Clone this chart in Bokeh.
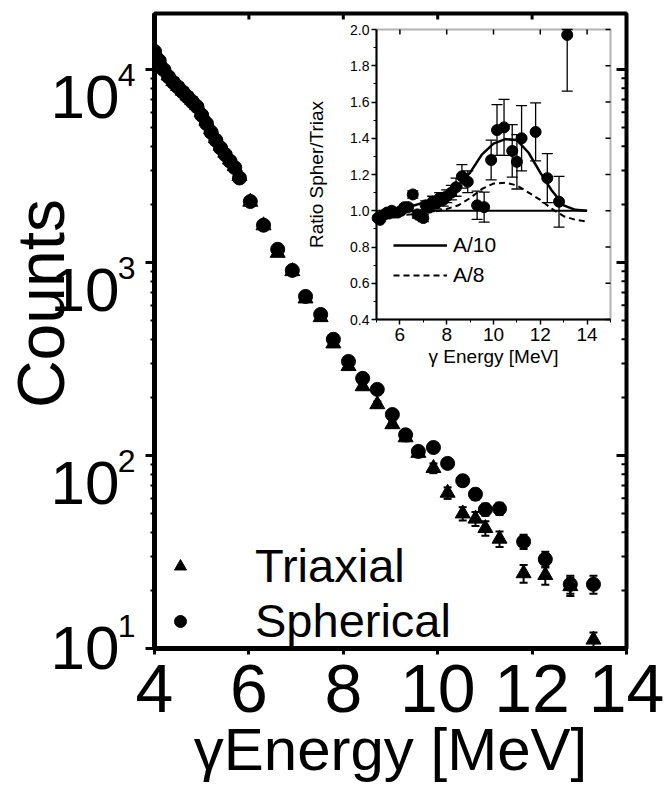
import math
from bokeh.plotting import figure
from bokeh.models import (ColumnDataSource, Whisker, TeeHead, Legend, LegendItem,
                          LinearAxis, LogAxis, FixedTicker, PrintfTickFormatter, Range1d,
                          BoxAnnotation, LinearScale)
from bokeh.embed import file_html
from bokeh.resources import INLINE

FONT = "Liberation Sans"

# ---------------- main spectrum data ----------------
tri_energy = [4.0, 4.1, 4.2, 4.3, 4.4, 4.5, 4.6, 4.7, 4.8, 4.9, 5.0, 5.1, 5.2, 5.3, 5.4,
              5.5, 5.6, 5.7, 5.8, 6.03, 6.31, 6.61, 6.92, 7.20, 7.52, 7.79, 8.11, 8.41,
              8.72, 9.04, 9.32, 9.59, 9.91, 10.21, 10.53, 10.80, 11.01, 11.31, 11.82,
              12.28, 12.81, 13.30]
tri_counts = [12700, 11300, 10100, 9300, 8700, 8200, 7750, 7320, 6920, 6540, 5990, 5420,
              4890, 4400, 4020, 3700, 3410, 3150, 2800, 2060, 1555, 1120, 900, 650, 520,
              380, 290, 228, 184, 145, 124, 103, 86, 64, 50, 47, 42, 37, 24.5, 24, 21, 11.1]
tri_err = [60, 55, 50, 48, 45, 43, 42, 40, 39, 37, 35, 33, 32, 30, 29, 28, 27, 26, 25, 22,
           19, 16, 14, 12, 11, 9, 8, 7, 6.5, 6, 5.5, 5, 5, 4.4, 4.0, 3.9, 3.6, 3.4, 2.6,
           2.6, 2.3, 1.0]

sph_energy = [4.0, 4.1, 4.2, 4.3, 4.4, 4.5, 4.6, 4.7, 4.8, 4.9, 5.0, 5.1, 5.2, 5.3, 5.4,
              5.5, 5.6, 5.7, 5.8, 6.03, 6.31, 6.61, 6.92, 7.20, 7.52, 7.79, 8.11, 8.41,
              8.72, 9.04, 9.32, 9.59, 9.91, 10.21, 10.53, 10.80, 11.01, 11.31, 11.82,
              12.28, 12.81, 13.30]
sph_counts = [12400, 11100, 9950, 9150, 8560, 8100, 7640, 7200, 6800, 6420, 5800, 5250,
              4730, 4300, 3920, 3620, 3350, 3100, 2740, 2070, 1560, 1170, 910, 667, 538,
              400, 307, 251, 220, 163, 128, 105, 110, 91, 74, 63, 52.5, 53, 35.8, 29,
              21.5, 21.5]
sph_err = [60, 55, 50, 48, 45, 43, 42, 40, 39, 37, 35, 33, 32, 30, 29, 28, 27, 26, 25, 25,
           20, 17, 15, 12, 11, 9, 8, 7, 7, 6, 5.5, 5, 5.5, 5, 4.5, 4.2, 3.8, 3.9, 3.0,
           2.7, 2.3, 2.3]

x_ticks = [4, 6, 8, 10, 12, 14]
y_decades = [10, 100, 1000, 10000]
y_exponents = ["1", "2", "3", "4"]
y_minor = [20, 30, 40, 50, 60, 70, 80, 90, 200, 300, 400, 500, 600, 700, 800, 900,
           2000, 3000, 4000, 5000, 6000, 7000, 8000, 9000]

# ---------------- inset (ratio) data ----------------
ratio_energy = [5.05, 5.15, 5.25, 5.35, 5.45, 5.55, 5.65, 5.75, 5.9, 6.05, 6.2, 6.35,
                6.55, 6.75, 6.9, 7.0, 7.1, 7.25, 7.4, 7.55, 7.7, 7.85, 8.0, 8.2, 8.4,
                8.65, 8.9, 9.3, 9.6, 9.9, 10.15, 10.45, 10.8, 11.0, 11.2, 11.8, 12.3,
                12.8, 13.15]
ratio_value = [0.96, 0.95, 0.97, 0.98, 0.99, 0.985, 1.0, 0.99, 0.99, 1.0, 1.02, 1.02,
               1.09, 0.98, 0.97, 0.96, 1.03, 1.02, 1.05, 1.04, 1.07, 1.06, 1.08, 1.10,
               1.13, 1.19, 1.16, 1.03, 1.02, 1.28, 1.445, 1.46, 1.33, 1.27, 1.40, 1.435,
               1.18, 1.05, 1.97]
ratio_err_low = [0.01, 0.01, 0.01, 0.01, 0.01, 0.01, 0.01, 0.01, 0.012, 0.012, 0.015,
                 0.015, 0.02, 0.02, 0.02, 0.02, 0.025, 0.025, 0.03, 0.03, 0.03, 0.035,
                 0.035, 0.04, 0.05, 0.065, 0.06, 0.078, 0.083, 0.11, 0.14, 0.155, 0.145,
                 0.15, 0.18, 0.16, 0.135, 0.14, 0.31]
ratio_err_high = [0.01, 0.01, 0.01, 0.01, 0.01, 0.01, 0.01, 0.01, 0.012, 0.012, 0.015,
                  0.015, 0.02, 0.02, 0.02, 0.02, 0.025, 0.025, 0.03, 0.03, 0.03, 0.035,
                  0.035, 0.04, 0.05, 0.065, 0.06, 0.078, 0.083, 0.11, 0.14, 0.155, 0.145,
                  0.15, 0.18, 0.16, 0.135, 0.14, 0.03]

curve_energy = [5.0, 5.5, 6.0, 6.5, 7.0, 7.5, 8.0, 8.5, 9.0, 9.5, 10.0, 10.5, 11.0, 11.5,
                12.0, 12.5, 13.0, 13.5, 14.0]
curve_a10 = [0.965, 0.98, 1.0, 1.025, 1.045, 1.065, 1.09, 1.14, 1.21, 1.31, 1.37, 1.395,
             1.39, 1.32, 1.21, 1.11, 1.03, 1.005, 1.0]
curve_a8 = [0.965, 0.97, 0.975, 0.98, 0.985, 0.995, 1.01, 1.03, 1.07, 1.12, 1.15, 1.155,
            1.14, 1.10, 1.06, 1.01, 0.97, 0.95, 0.94]
unity_energy = [5.0, 14.0]
unity_value = [1.0, 1.0]

inset_x_ticks = [6, 8, 10, 12, 14]
inset_x_minor = [5, 7, 9, 11, 13, 15]
inset_y_ticks = [0.4, 0.6, 0.8, 1.0, 1.2, 1.4, 1.6, 1.8, 2.0]
inset_y_minor = [0.5, 0.7, 0.9, 1.1, 1.3, 1.5, 1.7, 1.9]

# ---------------- layout constants (pixels) ----------------
W, H = 666, 789
BL, BR, BT, BB = 154, 40, 13, 141
FW, FH = W - BL - BR, H - BT - BB          # main frame size
X0, X1 = 4, 14
Y0, Y1 = 10, 19500
PX_DECADE = FH / math.log10(Y1 / Y0)
# inset frame, in main-frame pixels (from frame left / frame top)
IL, IR, IT, IB = 222, 456, 16, 306
IX0, IX1, IY0, IY1 = 5, 15, 0.4, 2.0
ipx = (IR - IL) / (IX1 - IX0)
ipy = (IB - IT) / (IY1 - IY0)

p = figure(width=W, height=H, x_range=(X0, X1), y_range=(Y0, Y1),
           y_axis_type="log", output_backend="svg", toolbar_location=None,
           min_border_left=BL, min_border_right=BR, min_border_top=BT,
           min_border_bottom=BB)
p.xgrid.visible = False
p.ygrid.visible = False
p.outline_line_color = "black"
p.outline_line_width = 4

p.extra_x_ranges = {"ix": Range1d(IX0 - IL / ipx, IX1 + (FW - IR) / ipx),
                    "fx": Range1d(0, FW)}
p.extra_x_scales = {"ix": LinearScale(), "fx": LinearScale()}
p.extra_y_ranges = {"iy": Range1d(IY0 - (FH - IB) / ipy, IY1 + IT / ipy),
                    "fy": Range1d(0, FH)}
p.extra_y_scales = {"iy": LinearScale(), "fy": LinearScale()}

# ---- main data ----
tri_src = ColumnDataSource(dict(x=tri_energy, y=tri_counts,
                                lo=[c - e for c, e in zip(tri_counts, tri_err)],
                                hi=[c + e for c, e in zip(tri_counts, tri_err)]))
sph_src = ColumnDataSource(dict(x=sph_energy, y=sph_counts,
                                lo=[c - e for c, e in zip(sph_counts, sph_err)],
                                hi=[c + e for c, e in zip(sph_counts, sph_err)]))
for src in (tri_src, sph_src):
    p.add_layout(Whisker(source=src, base="x", lower="lo", upper="hi",
                         line_color="black", line_width=2,
                         upper_head=TeeHead(size=8, line_width=2, line_color="black"),
                         lower_head=TeeHead(size=8, line_width=2, line_color="black")))
sph_r = p.scatter("x", "y", source=sph_src, marker="circle", size=14,
                  fill_color="black", line_color="black")
tri_r = p.scatter("x", "y", source=tri_src, marker="triangle", size=15,
                  fill_color="black", line_color="black")

# ---- main axes ----
xa = p.xaxis[0]
xa.ticker = FixedTicker(ticks=x_ticks, minor_ticks=[])
xa.axis_line_width = 5
xa.major_tick_line_width = 3
xa.major_tick_out = 6
xa.major_tick_in = 0
xa.major_label_standoff = 10
xa.major_label_text_font = FONT
xa.major_label_text_font_size = "68px"
xa.major_label_text_color = "black"
xa.axis_label = "γEnergy [MeV]"
xa.axis_label_text_font = FONT
xa.axis_label_text_font_size = "60px"
xa.axis_label_text_font_style = "normal"
xa.axis_label_text_color = "black"
xa.axis_label_standoff = 1

ya = p.yaxis[0]
ya.axis_line_width = 5
ya.major_tick_out = 9
ya.major_tick_in = 0
ya.minor_tick_out = 4
ya.minor_tick_in = 0
ya.major_tick_line_width = 3
ya.minor_tick_line_width = 2
ya.major_label_overrides = {d: "" for d in y_decades}
ya.major_label_standoff = 0

# y tick labels 10^k: "10" sits ~28 px below its decade, the exponent ~22 px above the "10"
def _px_above_bottom(v):
    return math.log10(v / Y0) * PX_DECADE

ten_pos = [d * 10 ** (-(min(28, _px_above_bottom(d) - 1)) / PX_DECADE) for d in y_decades]
exp_pos = [t * 10 ** (22 / PX_DECADE) for t in ten_pos]
exp_axis = LogAxis(ticker=FixedTicker(ticks=exp_pos, minor_ticks=[]),
                   major_label_overrides={t: e for t, e in zip(exp_pos, y_exponents)},
                   axis_line_color=None, major_tick_out=0, major_tick_in=0,
                   minor_tick_out=0, minor_tick_in=0, major_label_standoff=10,
                   major_label_text_font=FONT, major_label_text_font_size="32px",
                   major_label_text_color="black")
p.add_layout(exp_axis, "left")
ten_axis = LogAxis(ticker=FixedTicker(ticks=ten_pos, minor_ticks=[]),
                   major_label_overrides={t: "10" for t in ten_pos},
                   axis_line_color=None, major_tick_out=0, major_tick_in=0,
                   minor_tick_out=0, minor_tick_in=0, major_label_standoff=-5,
                   major_label_text_font=FONT, major_label_text_font_size="62px",
                   major_label_text_color="black")
p.add_layout(ten_axis, "left")
# "Counts" sits a little above the frame centre: pad its start with no-break spaces
counts_axis = LogAxis(ticker=FixedTicker(ticks=[]),
                      axis_line_color=None, major_tick_out=0, major_tick_in=0,
                      minor_tick_out=0, minor_tick_in=0, major_label_standoff=0,
                      axis_label="\u00a0\u00a0\u00a0Counts", axis_label_text_font=FONT,
                      axis_label_text_font_size="66px",
                      axis_label_text_font_style="normal",
                      axis_label_text_color="black", axis_label_standoff=-30)
p.add_layout(counts_axis, "left")

# inward ticks on the top and right edges
p.segment(x0=[FW - 10] * 3, x1=[FW] * 3, y0=y_decades[1:], y1=y_decades[1:],
          x_range_name="fx", line_color="black", line_width=3)
p.segment(x0=[FW - 5] * len(y_minor), x1=[FW] * len(y_minor), y0=y_minor, y1=y_minor,
          x_range_name="fx", line_color="black", line_width=2)
p.segment(x0=x_ticks[1:-1], x1=x_ticks[1:-1], y0=[FH - 6] * 4, y1=[FH] * 4,
          y_range_name="fy", line_color="black", line_width=3)

leg = Legend(items=[LegendItem(label="Triaxial", renderers=[tri_r]),
                    LegendItem(label="Spherical", renderers=[sph_r])],
             location=(11, 0), glyph_width=30, glyph_height=30, label_standoff=60,
             spacing=0, padding=0, margin=0, border_line_color=None,
             background_fill_alpha=0, label_text_font=FONT,
             label_text_font_size="47px", label_text_color="black")
p.add_layout(leg)

# ================= inset (drawn on its own ranges) =================
p.add_layout(BoxAnnotation(left=IX0, right=IX1, bottom=IY0, top=IY1,
                           x_range_name="ix", y_range_name="iy",
                           fill_alpha=0, line_color="black", line_width=2))
p.line(unity_energy, unity_value, x_range_name="ix", y_range_name="iy",
       line_color="black", line_width=2)
a10_r = p.line(curve_energy, curve_a10, x_range_name="ix", y_range_name="iy",
               line_color="black", line_width=2.5)
a8_r = p.line(curve_energy, curve_a8, x_range_name="ix", y_range_name="iy",
              line_color="black", line_width=2, line_dash="6 4")

r_src = ColumnDataSource(dict(x=ratio_energy, y=ratio_value,
                              lo=[v - e for v, e in zip(ratio_value, ratio_err_low)],
                              hi=[v + e for v, e in zip(ratio_value, ratio_err_high)]))
p.add_layout(Whisker(source=r_src, base="x", lower="lo", upper="hi",
                     x_range_name="ix", y_range_name="iy",
                     line_color="black", line_width=1.3,
                     upper_head=TeeHead(size=11, line_width=1.3, line_color="black"),
                     lower_head=TeeHead(size=11, line_width=1.3, line_color="black")))
p.scatter("x", "y", source=r_src, marker="circle", size=11, x_range_name="ix",
          y_range_name="iy", fill_color="black", line_color="black")

# inset ticks on top / right edges (inward)
p.segment(x0=inset_x_ticks, x1=inset_x_ticks, y0=[IY1 - 5 / ipy] * 5, y1=[IY1] * 5,
          x_range_name="ix", y_range_name="iy", line_color="black", line_width=1.5)
p.segment(x0=[IX1 - 5 / ipx] * 9, x1=[IX1] * 9, y0=inset_y_ticks, y1=inset_y_ticks,
          x_range_name="ix", y_range_name="iy", line_color="black", line_width=1.5)

ixa = LinearAxis(x_range_name="ix", y_range_name="iy", fixed_location=IY0,
                 bounds=(IX0, IX1),
                 ticker=FixedTicker(ticks=inset_x_ticks, minor_ticks=inset_x_minor),
                 axis_line_width=2, major_tick_out=5, major_tick_in=0,
                 minor_tick_out=3, minor_tick_in=0, major_tick_line_width=1.5,
                 major_label_standoff=3, major_label_text_font=FONT,
                 major_label_text_font_size="19px", major_label_text_color="black",
                 axis_label="γ Energy [MeV]", axis_label_text_font=FONT,
                 axis_label_text_font_size="19px", axis_label_text_font_style="normal",
                 axis_label_text_color="black", axis_label_standoff=2)
p.add_layout(ixa, "below")
iya = LinearAxis(x_range_name="ix", y_range_name="iy", fixed_location=IX0,
                 bounds=(IY0, IY1),
                 ticker=FixedTicker(ticks=inset_y_ticks, minor_ticks=inset_y_minor),
                 formatter=PrintfTickFormatter(format="%.1f"),
                 axis_line_width=2, major_tick_out=5, major_tick_in=0,
                 minor_tick_out=3, minor_tick_in=0, major_tick_line_width=1.5,
                 major_label_standoff=2, major_label_text_font=FONT,
                 major_label_text_font_size="14px", major_label_text_color="black",
                 axis_label="Ratio Spher/Triax", axis_label_text_font=FONT,
                 axis_label_text_font_size="19px", axis_label_text_font_style="normal",
                 axis_label_text_color="black", axis_label_standoff=20)
p.add_layout(iya, "left")

ileg = Legend(items=[LegendItem(label="A/10", renderers=[a10_r]),
                     LegendItem(label="A/8", renderers=[a8_r])],
              location=(IL + 17, FH - IB + 32), glyph_width=54, glyph_height=20,
              label_standoff=6, spacing=6, padding=0, margin=0,
              border_line_color=None, background_fill_alpha=0, label_text_font=FONT,
              label_text_font_size="21px", label_text_color="black")
p.add_layout(ileg)

open("out.html", "w").write(file_html(p, INLINE))
